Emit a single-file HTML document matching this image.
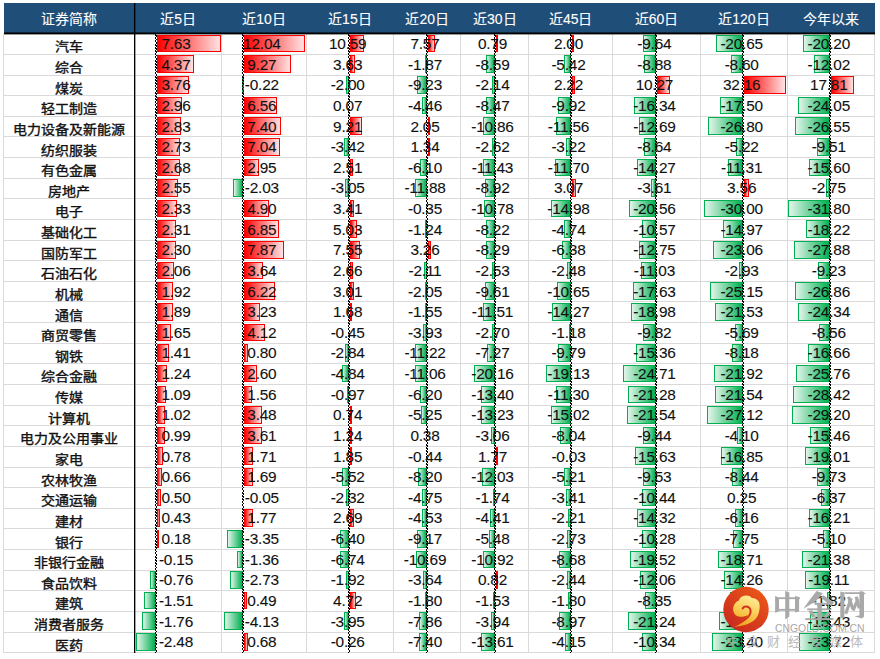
<!DOCTYPE html><html lang="zh-CN"><head><meta charset="utf-8"><style>
*{margin:0;padding:0;box-sizing:border-box}
html,body{width:880px;height:659px;background:#fff;overflow:hidden;position:relative;font-family:"Liberation Sans",sans-serif}
.a{position:absolute}
.hd{position:absolute;left:4px;top:3.2px;width:870.7px;height:30px;background:#1f4e79}
.ht{position:absolute;top:4.0px;height:30px;line-height:30px;color:#fff;font-size:14px;-webkit-text-stroke:0.1px #fff;text-align:center;white-space:nowrap}
.gv{position:absolute;width:1px;background:#dadada}
.gh{position:absolute;height:1px;background:#dadada}
.nm{position:absolute;font-size:14px;-webkit-text-stroke:0.4px #111;color:#111;transform:scaleY(0.9);transform-origin:50% 16.6px;text-align:center;white-space:nowrap;line-height:20px}
.n{position:absolute;font-size:15.4px;letter-spacing:-0.2px;color:#111;-webkit-text-stroke:0.1px #111;white-space:nowrap;line-height:20px}
.c{text-align:center}
.rb{position:absolute;border:1px solid #ff0000;background:linear-gradient(90deg,#ff0000,#ffe2e2)}
.gb{position:absolute;border:1px solid #00b050;background:linear-gradient(270deg,#00b050,#e2f5ea)}
.ax{position:absolute;width:1px;background:repeating-linear-gradient(180deg,#000 0,#000 2px,transparent 2px,transparent 3.2px)}
.ax2{position:absolute;width:1px;background:repeating-linear-gradient(180deg,transparent 0,transparent 1.4px,#000 1.4px,#000 3.2px)}

</style></head><body>
<div class="hd"></div>
<div class="ht" style="left:4px;width:130.5px">证券简称</div>
<div class="ht" style="left:134.5px;width:87.3px">近5日</div>
<div class="ht" style="left:221.84px;width:84.5px">近10日</div>
<div class="ht" style="left:306.3px;width:87.2px">近15日</div>
<div class="ht" style="left:393.47px;width:67.5px">近20日</div>
<div class="ht" style="left:460.99px;width:67.5px">近30日</div>
<div class="ht" style="left:528.47px;width:84.4px">近45日</div>
<div class="ht" style="left:612.9px;width:87.4px">近60日</div>
<div class="ht" style="left:700.3px;width:87.2px">近120日</div>
<div class="ht" style="left:787.47px;width:87.0px">今年以来</div>
<div class="gh" style="left:4px;top:54px;width:871px"></div>
<div class="gh" style="left:4px;top:75px;width:871px"></div>
<div class="gh" style="left:4px;top:95px;width:871px"></div>
<div class="gh" style="left:4px;top:116px;width:871px"></div>
<div class="gh" style="left:4px;top:136px;width:871px"></div>
<div class="gh" style="left:4px;top:157px;width:871px"></div>
<div class="gh" style="left:4px;top:178px;width:871px"></div>
<div class="gh" style="left:4px;top:198px;width:871px"></div>
<div class="gh" style="left:4px;top:219px;width:871px"></div>
<div class="gh" style="left:4px;top:240px;width:871px"></div>
<div class="gh" style="left:4px;top:260px;width:871px"></div>
<div class="gh" style="left:4px;top:281px;width:871px"></div>
<div class="gh" style="left:4px;top:301px;width:871px"></div>
<div class="gh" style="left:4px;top:322px;width:871px"></div>
<div class="gh" style="left:4px;top:343px;width:871px"></div>
<div class="gh" style="left:4px;top:363px;width:871px"></div>
<div class="gh" style="left:4px;top:384px;width:871px"></div>
<div class="gh" style="left:4px;top:405px;width:871px"></div>
<div class="gh" style="left:4px;top:425px;width:871px"></div>
<div class="gh" style="left:4px;top:446px;width:871px"></div>
<div class="gh" style="left:4px;top:467px;width:871px"></div>
<div class="gh" style="left:4px;top:487px;width:871px"></div>
<div class="gh" style="left:4px;top:508px;width:871px"></div>
<div class="gh" style="left:4px;top:528px;width:871px"></div>
<div class="gh" style="left:4px;top:549px;width:871px"></div>
<div class="gh" style="left:4px;top:570px;width:871px"></div>
<div class="gh" style="left:4px;top:590px;width:871px"></div>
<div class="gh" style="left:4px;top:611px;width:871px"></div>
<div class="gh" style="left:4px;top:632px;width:871px"></div>
<div class="gh" style="left:4px;top:652px;width:871px"></div>
<div class="gv" style="left:221px;top:34px;height:619px"></div>
<div class="gv" style="left:306px;top:34px;height:619px"></div>
<div class="gv" style="left:393px;top:34px;height:619px"></div>
<div class="gv" style="left:460px;top:34px;height:619px"></div>
<div class="gv" style="left:528px;top:34px;height:619px"></div>
<div class="gv" style="left:612px;top:34px;height:619px"></div>
<div class="gv" style="left:700px;top:34px;height:619px"></div>
<div class="gv" style="left:787px;top:34px;height:619px"></div>
<div class="gv" style="left:874px;top:34px;height:619px"></div>
<div class="gv" style="left:3px;top:33.8px;height:618.9px"></div>
<div class="rb" style="left:156.85px;top:34.80px;width:64.50px;height:17.6px"></div>
<div class="rb" style="left:244.30px;top:34.80px;width:60.30px;height:17.6px"></div>
<div class="rb" style="left:350.00px;top:34.80px;width:13.79px;height:17.6px"></div>
<div class="rb" style="left:427.90px;top:34.80px;width:7.41px;height:17.6px"></div>
<div class="rb" style="left:495.90px;top:34.80px;width:1.00px;height:17.6px"></div>
<div class="rb" style="left:571.90px;top:34.80px;width:2.45px;height:17.6px"></div>
<div class="gb" style="left:643.02px;top:34.80px;width:12.68px;height:17.6px"></div>
<div class="gb" style="left:715.76px;top:34.80px;width:26.84px;height:17.6px"></div>
<div class="gb" style="left:803.49px;top:34.80px;width:26.21px;height:17.6px"></div>
<div class="rb" style="left:156.85px;top:55.43px;width:36.94px;height:17.6px"></div>
<div class="rb" style="left:244.30px;top:55.43px;width:46.43px;height:17.6px"></div>
<div class="rb" style="left:350.00px;top:55.43px;width:4.73px;height:17.6px"></div>
<div class="gb" style="left:424.70px;top:55.43px;width:1.90px;height:17.6px"></div>
<div class="gb" style="left:485.76px;top:55.43px;width:8.84px;height:17.6px"></div>
<div class="gb" style="left:563.58px;top:55.43px;width:7.02px;height:17.6px"></div>
<div class="gb" style="left:644.02px;top:55.43px;width:11.68px;height:17.6px"></div>
<div class="gb" style="left:731.42px;top:55.43px;width:11.18px;height:17.6px"></div>
<div class="gb" style="left:814.10px;top:55.43px;width:15.60px;height:17.6px"></div>
<div class="rb" style="left:156.85px;top:76.06px;width:31.79px;height:17.6px"></div>
<div class="gb" style="left:241.96px;top:76.06px;width:1.04px;height:17.6px"></div>
<div class="gb" style="left:346.09px;top:76.06px;width:2.61px;height:17.6px"></div>
<div class="gb" style="left:417.24px;top:76.06px;width:9.36px;height:17.6px"></div>
<div class="gb" style="left:492.40px;top:76.06px;width:2.20px;height:17.6px"></div>
<div class="rb" style="left:571.90px;top:76.06px;width:2.72px;height:17.6px"></div>
<div class="rb" style="left:657.00px;top:76.06px;width:13.32px;height:17.6px"></div>
<div class="rb" style="left:743.90px;top:76.06px;width:41.97px;height:17.6px"></div>
<div class="rb" style="left:831.00px;top:76.06px;width:23.20px;height:17.6px"></div>
<div class="rb" style="left:156.85px;top:96.69px;width:25.02px;height:17.6px"></div>
<div class="rb" style="left:244.30px;top:96.69px;width:32.85px;height:17.6px"></div>
<div class="gb" style="left:422.07px;top:96.69px;width:4.53px;height:17.6px"></div>
<div class="gb" style="left:485.88px;top:96.69px;width:8.72px;height:17.6px"></div>
<div class="gb" style="left:557.76px;top:96.69px;width:12.84px;height:17.6px"></div>
<div class="gb" style="left:634.21px;top:96.69px;width:21.49px;height:17.6px"></div>
<div class="gb" style="left:719.85px;top:96.69px;width:22.75px;height:17.6px"></div>
<div class="gb" style="left:798.49px;top:96.69px;width:31.21px;height:17.6px"></div>
<div class="rb" style="left:156.85px;top:117.32px;width:23.92px;height:17.6px"></div>
<div class="rb" style="left:244.30px;top:117.32px;width:37.06px;height:17.6px"></div>
<div class="rb" style="left:350.00px;top:117.32px;width:11.99px;height:17.6px"></div>
<div class="rb" style="left:427.90px;top:117.32px;width:2.01px;height:17.6px"></div>
<div class="gb" style="left:483.42px;top:117.32px;width:11.18px;height:17.6px"></div>
<div class="gb" style="left:555.64px;top:117.32px;width:14.96px;height:17.6px"></div>
<div class="gb" style="left:639.01px;top:117.32px;width:16.69px;height:17.6px"></div>
<div class="gb" style="left:707.77px;top:117.32px;width:34.83px;height:17.6px"></div>
<div class="gb" style="left:795.25px;top:117.32px;width:34.45px;height:17.6px"></div>
<div class="rb" style="left:156.85px;top:137.95px;width:23.08px;height:17.6px"></div>
<div class="rb" style="left:244.30px;top:137.95px;width:35.26px;height:17.6px"></div>
<div class="gb" style="left:344.24px;top:137.95px;width:4.46px;height:17.6px"></div>
<div class="rb" style="left:427.90px;top:137.95px;width:1.31px;height:17.6px"></div>
<div class="gb" style="left:491.90px;top:137.95px;width:2.70px;height:17.6px"></div>
<div class="gb" style="left:566.43px;top:137.95px;width:4.17px;height:17.6px"></div>
<div class="gb" style="left:644.34px;top:137.95px;width:11.36px;height:17.6px"></div>
<div class="gb" style="left:735.82px;top:137.95px;width:6.78px;height:17.6px"></div>
<div class="gb" style="left:817.36px;top:137.95px;width:12.34px;height:17.6px"></div>
<div class="rb" style="left:156.85px;top:158.58px;width:22.66px;height:17.6px"></div>
<div class="rb" style="left:244.30px;top:158.58px;width:14.77px;height:17.6px"></div>
<div class="rb" style="left:350.00px;top:158.58px;width:3.27px;height:17.6px"></div>
<div class="gb" style="left:420.41px;top:158.58px;width:6.19px;height:17.6px"></div>
<div class="gb" style="left:482.83px;top:158.58px;width:11.77px;height:17.6px"></div>
<div class="gb" style="left:555.45px;top:158.58px;width:15.15px;height:17.6px"></div>
<div class="gb" style="left:636.93px;top:158.58px;width:18.77px;height:17.6px"></div>
<div class="gb" style="left:727.90px;top:158.58px;width:14.70px;height:17.6px"></div>
<div class="gb" style="left:809.46px;top:158.58px;width:20.24px;height:17.6px"></div>
<div class="rb" style="left:156.85px;top:179.21px;width:21.56px;height:17.6px"></div>
<div class="gb" style="left:233.42px;top:179.21px;width:9.58px;height:17.6px"></div>
<div class="gb" style="left:344.73px;top:179.21px;width:3.97px;height:17.6px"></div>
<div class="gb" style="left:414.55px;top:179.21px;width:12.05px;height:17.6px"></div>
<div class="gb" style="left:485.42px;top:179.21px;width:9.18px;height:17.6px"></div>
<div class="rb" style="left:571.90px;top:179.21px;width:3.76px;height:17.6px"></div>
<div class="gb" style="left:650.95px;top:179.21px;width:4.75px;height:17.6px"></div>
<div class="rb" style="left:743.90px;top:179.21px;width:4.65px;height:17.6px"></div>
<div class="gb" style="left:826.13px;top:179.21px;width:3.57px;height:17.6px"></div>
<div class="rb" style="left:156.85px;top:199.84px;width:19.70px;height:17.6px"></div>
<div class="rb" style="left:244.30px;top:199.84px;width:24.54px;height:17.6px"></div>
<div class="rb" style="left:350.00px;top:199.84px;width:4.44px;height:17.6px"></div>
<div class="gb" style="left:483.50px;top:199.84px;width:11.10px;height:17.6px"></div>
<div class="gb" style="left:551.21px;top:199.84px;width:19.39px;height:17.6px"></div>
<div class="gb" style="left:628.66px;top:199.84px;width:27.04px;height:17.6px"></div>
<div class="gb" style="left:703.61px;top:199.84px;width:38.99px;height:17.6px"></div>
<div class="gb" style="left:788.44px;top:199.84px;width:41.26px;height:17.6px"></div>
<div class="rb" style="left:156.85px;top:220.47px;width:19.53px;height:17.6px"></div>
<div class="rb" style="left:244.30px;top:220.47px;width:34.31px;height:17.6px"></div>
<div class="rb" style="left:350.00px;top:220.47px;width:6.55px;height:17.6px"></div>
<div class="gb" style="left:425.34px;top:220.47px;width:1.26px;height:17.6px"></div>
<div class="gb" style="left:486.14px;top:220.47px;width:8.46px;height:17.6px"></div>
<div class="gb" style="left:564.46px;top:220.47px;width:6.14px;height:17.6px"></div>
<div class="gb" style="left:641.80px;top:220.47px;width:13.90px;height:17.6px"></div>
<div class="gb" style="left:723.14px;top:220.47px;width:19.46px;height:17.6px"></div>
<div class="gb" style="left:806.06px;top:220.47px;width:23.64px;height:17.6px"></div>
<div class="rb" style="left:156.85px;top:241.10px;width:19.44px;height:17.6px"></div>
<div class="rb" style="left:244.30px;top:241.10px;width:39.42px;height:17.6px"></div>
<div class="rb" style="left:350.00px;top:241.10px;width:9.83px;height:17.6px"></div>
<div class="rb" style="left:427.90px;top:241.10px;width:3.19px;height:17.6px"></div>
<div class="gb" style="left:486.07px;top:241.10px;width:8.53px;height:17.6px"></div>
<div class="gb" style="left:562.34px;top:241.10px;width:8.26px;height:17.6px"></div>
<div class="gb" style="left:638.93px;top:241.10px;width:16.77px;height:17.6px"></div>
<div class="gb" style="left:712.63px;top:241.10px;width:29.97px;height:17.6px"></div>
<div class="gb" style="left:793.52px;top:241.10px;width:36.18px;height:17.6px"></div>
<div class="rb" style="left:156.85px;top:261.73px;width:17.41px;height:17.6px"></div>
<div class="rb" style="left:244.30px;top:261.73px;width:18.23px;height:17.6px"></div>
<div class="rb" style="left:350.00px;top:261.73px;width:3.46px;height:17.6px"></div>
<div class="gb" style="left:424.46px;top:261.73px;width:2.14px;height:17.6px"></div>
<div class="gb" style="left:492.00px;top:261.73px;width:2.60px;height:17.6px"></div>
<div class="gb" style="left:567.39px;top:261.73px;width:3.21px;height:17.6px"></div>
<div class="gb" style="left:641.19px;top:261.73px;width:14.51px;height:17.6px"></div>
<div class="gb" style="left:738.79px;top:261.73px;width:3.81px;height:17.6px"></div>
<div class="gb" style="left:817.72px;top:261.73px;width:11.98px;height:17.6px"></div>
<div class="rb" style="left:156.85px;top:282.36px;width:16.23px;height:17.6px"></div>
<div class="rb" style="left:244.30px;top:282.36px;width:31.15px;height:17.6px"></div>
<div class="rb" style="left:350.00px;top:282.36px;width:3.92px;height:17.6px"></div>
<div class="gb" style="left:424.52px;top:282.36px;width:2.08px;height:17.6px"></div>
<div class="gb" style="left:484.71px;top:282.36px;width:9.89px;height:17.6px"></div>
<div class="gb" style="left:556.81px;top:282.36px;width:13.79px;height:17.6px"></div>
<div class="gb" style="left:632.51px;top:282.36px;width:23.19px;height:17.6px"></div>
<div class="gb" style="left:709.91px;top:282.36px;width:32.69px;height:17.6px"></div>
<div class="gb" style="left:794.85px;top:282.36px;width:34.85px;height:17.6px"></div>
<div class="rb" style="left:156.85px;top:302.99px;width:15.98px;height:17.6px"></div>
<div class="rb" style="left:244.30px;top:302.99px;width:16.18px;height:17.6px"></div>
<div class="rb" style="left:350.00px;top:302.99px;width:2.19px;height:17.6px"></div>
<div class="gb" style="left:425.03px;top:302.99px;width:1.57px;height:17.6px"></div>
<div class="gb" style="left:482.75px;top:302.99px;width:11.85px;height:17.6px"></div>
<div class="gb" style="left:552.13px;top:302.99px;width:18.47px;height:17.6px"></div>
<div class="gb" style="left:630.74px;top:302.99px;width:24.96px;height:17.6px"></div>
<div class="gb" style="left:714.62px;top:302.99px;width:27.98px;height:17.6px"></div>
<div class="gb" style="left:798.12px;top:302.99px;width:31.58px;height:17.6px"></div>
<div class="rb" style="left:156.85px;top:323.62px;width:13.95px;height:17.6px"></div>
<div class="rb" style="left:244.30px;top:323.62px;width:20.63px;height:17.6px"></div>
<div class="gb" style="left:422.61px;top:323.62px;width:3.99px;height:17.6px"></div>
<div class="gb" style="left:491.82px;top:323.62px;width:2.78px;height:17.6px"></div>
<div class="gb" style="left:569.07px;top:323.62px;width:1.53px;height:17.6px"></div>
<div class="gb" style="left:642.78px;top:323.62px;width:12.92px;height:17.6px"></div>
<div class="gb" style="left:735.20px;top:323.62px;width:7.40px;height:17.6px"></div>
<div class="gb" style="left:818.59px;top:323.62px;width:11.11px;height:17.6px"></div>
<div class="rb" style="left:156.85px;top:344.25px;width:11.92px;height:17.6px"></div>
<div class="rb" style="left:244.30px;top:344.25px;width:4.01px;height:17.6px"></div>
<div class="gb" style="left:345.00px;top:344.25px;width:3.70px;height:17.6px"></div>
<div class="gb" style="left:415.22px;top:344.25px;width:11.38px;height:17.6px"></div>
<div class="gb" style="left:487.12px;top:344.25px;width:7.48px;height:17.6px"></div>
<div class="gb" style="left:557.93px;top:344.25px;width:12.67px;height:17.6px"></div>
<div class="gb" style="left:635.50px;top:344.25px;width:20.20px;height:17.6px"></div>
<div class="gb" style="left:731.97px;top:344.25px;width:10.63px;height:17.6px"></div>
<div class="gb" style="left:808.08px;top:344.25px;width:21.62px;height:17.6px"></div>
<div class="rb" style="left:156.85px;top:364.88px;width:10.48px;height:17.6px"></div>
<div class="rb" style="left:244.30px;top:364.88px;width:13.02px;height:17.6px"></div>
<div class="gb" style="left:342.39px;top:364.88px;width:6.31px;height:17.6px"></div>
<div class="gb" style="left:415.38px;top:364.88px;width:11.22px;height:17.6px"></div>
<div class="gb" style="left:473.84px;top:364.88px;width:20.76px;height:17.6px"></div>
<div class="gb" style="left:545.84px;top:364.88px;width:24.76px;height:17.6px"></div>
<div class="gb" style="left:623.20px;top:364.88px;width:32.50px;height:17.6px"></div>
<div class="gb" style="left:714.11px;top:364.88px;width:28.49px;height:17.6px"></div>
<div class="gb" style="left:796.27px;top:364.88px;width:33.43px;height:17.6px"></div>
<div class="rb" style="left:156.85px;top:385.51px;width:9.21px;height:17.6px"></div>
<div class="rb" style="left:244.30px;top:385.51px;width:7.81px;height:17.6px"></div>
<div class="gb" style="left:347.44px;top:385.51px;width:1.26px;height:17.6px"></div>
<div class="gb" style="left:420.31px;top:385.51px;width:6.29px;height:17.6px"></div>
<div class="gb" style="left:480.80px;top:385.51px;width:13.80px;height:17.6px"></div>
<div class="gb" style="left:555.97px;top:385.51px;width:14.63px;height:17.6px"></div>
<div class="gb" style="left:627.71px;top:385.51px;width:27.99px;height:17.6px"></div>
<div class="gb" style="left:714.60px;top:385.51px;width:28.00px;height:17.6px"></div>
<div class="gb" style="left:792.82px;top:385.51px;width:36.88px;height:17.6px"></div>
<div class="rb" style="left:156.85px;top:406.14px;width:8.62px;height:17.6px"></div>
<div class="rb" style="left:244.30px;top:406.14px;width:17.43px;height:17.6px"></div>
<div class="rb" style="left:350.00px;top:406.14px;width:1.00px;height:17.6px"></div>
<div class="gb" style="left:421.27px;top:406.14px;width:5.33px;height:17.6px"></div>
<div class="gb" style="left:480.98px;top:406.14px;width:13.62px;height:17.6px"></div>
<div class="gb" style="left:551.16px;top:406.14px;width:19.44px;height:17.6px"></div>
<div class="gb" style="left:627.37px;top:406.14px;width:28.33px;height:17.6px"></div>
<div class="gb" style="left:707.35px;top:406.14px;width:35.25px;height:17.6px"></div>
<div class="gb" style="left:791.81px;top:406.14px;width:37.89px;height:17.6px"></div>
<div class="rb" style="left:156.85px;top:426.77px;width:8.37px;height:17.6px"></div>
<div class="rb" style="left:244.30px;top:426.77px;width:18.08px;height:17.6px"></div>
<div class="rb" style="left:350.00px;top:426.77px;width:1.61px;height:17.6px"></div>
<div class="gb" style="left:491.45px;top:426.77px;width:3.15px;height:17.6px"></div>
<div class="gb" style="left:560.19px;top:426.77px;width:10.41px;height:17.6px"></div>
<div class="gb" style="left:643.28px;top:426.77px;width:12.42px;height:17.6px"></div>
<div class="gb" style="left:737.27px;top:426.77px;width:5.33px;height:17.6px"></div>
<div class="gb" style="left:809.64px;top:426.77px;width:20.06px;height:17.6px"></div>
<div class="rb" style="left:156.85px;top:447.40px;width:6.59px;height:17.6px"></div>
<div class="rb" style="left:244.30px;top:447.40px;width:8.56px;height:17.6px"></div>
<div class="rb" style="left:350.00px;top:447.40px;width:2.41px;height:17.6px"></div>
<div class="rb" style="left:495.90px;top:447.40px;width:1.70px;height:17.6px"></div>
<div class="gb" style="left:635.14px;top:447.40px;width:20.56px;height:17.6px"></div>
<div class="gb" style="left:720.70px;top:447.40px;width:21.90px;height:17.6px"></div>
<div class="gb" style="left:805.03px;top:447.40px;width:24.67px;height:17.6px"></div>
<div class="rb" style="left:156.85px;top:468.03px;width:5.58px;height:17.6px"></div>
<div class="rb" style="left:244.30px;top:468.03px;width:8.46px;height:17.6px"></div>
<div class="gb" style="left:341.51px;top:468.03px;width:7.19px;height:17.6px"></div>
<div class="gb" style="left:418.28px;top:468.03px;width:8.32px;height:17.6px"></div>
<div class="gb" style="left:482.21px;top:468.03px;width:12.39px;height:17.6px"></div>
<div class="gb" style="left:563.86px;top:468.03px;width:6.74px;height:17.6px"></div>
<div class="gb" style="left:643.17px;top:468.03px;width:12.53px;height:17.6px"></div>
<div class="gb" style="left:731.63px;top:468.03px;width:10.97px;height:17.6px"></div>
<div class="gb" style="left:817.07px;top:468.03px;width:12.63px;height:17.6px"></div>
<div class="rb" style="left:156.85px;top:488.66px;width:4.23px;height:17.6px"></div>
<div class="gb" style="left:345.68px;top:488.66px;width:3.02px;height:17.6px"></div>
<div class="gb" style="left:421.78px;top:488.66px;width:4.82px;height:17.6px"></div>
<div class="gb" style="left:492.81px;top:488.66px;width:1.79px;height:17.6px"></div>
<div class="gb" style="left:566.19px;top:488.66px;width:4.41px;height:17.6px"></div>
<div class="gb" style="left:641.97px;top:488.66px;width:13.73px;height:17.6px"></div>
<div class="gb" style="left:821.43px;top:488.66px;width:8.27px;height:17.6px"></div>
<div class="rb" style="left:156.85px;top:509.29px;width:3.63px;height:17.6px"></div>
<div class="rb" style="left:244.30px;top:509.29px;width:8.86px;height:17.6px"></div>
<div class="rb" style="left:350.00px;top:509.29px;width:3.50px;height:17.6px"></div>
<div class="gb" style="left:422.00px;top:509.29px;width:4.60px;height:17.6px"></div>
<div class="gb" style="left:490.06px;top:509.29px;width:4.54px;height:17.6px"></div>
<div class="gb" style="left:567.74px;top:509.29px;width:2.86px;height:17.6px"></div>
<div class="gb" style="left:636.86px;top:509.29px;width:18.84px;height:17.6px"></div>
<div class="gb" style="left:734.59px;top:509.29px;width:8.01px;height:17.6px"></div>
<div class="gb" style="left:808.67px;top:509.29px;width:21.03px;height:17.6px"></div>
<div class="rb" style="left:156.85px;top:529.92px;width:1.52px;height:17.6px"></div>
<div class="gb" style="left:227.18px;top:529.92px;width:15.82px;height:17.6px"></div>
<div class="gb" style="left:340.36px;top:529.92px;width:8.34px;height:17.6px"></div>
<div class="gb" style="left:417.30px;top:529.92px;width:9.30px;height:17.6px"></div>
<div class="gb" style="left:488.96px;top:529.92px;width:5.64px;height:17.6px"></div>
<div class="gb" style="left:567.07px;top:529.92px;width:3.53px;height:17.6px"></div>
<div class="gb" style="left:642.18px;top:529.92px;width:13.52px;height:17.6px"></div>
<div class="gb" style="left:732.53px;top:529.92px;width:10.07px;height:17.6px"></div>
<div class="gb" style="left:823.08px;top:529.92px;width:6.62px;height:17.6px"></div>
<div class="gb" style="left:236.58px;top:550.55px;width:6.42px;height:17.6px"></div>
<div class="gb" style="left:339.92px;top:550.55px;width:8.78px;height:17.6px"></div>
<div class="gb" style="left:415.75px;top:550.55px;width:10.85px;height:17.6px"></div>
<div class="gb" style="left:483.36px;top:550.55px;width:11.24px;height:17.6px"></div>
<div class="gb" style="left:559.36px;top:550.55px;width:11.24px;height:17.6px"></div>
<div class="gb" style="left:630.03px;top:550.55px;width:25.67px;height:17.6px"></div>
<div class="gb" style="left:718.28px;top:550.55px;width:24.32px;height:17.6px"></div>
<div class="gb" style="left:801.96px;top:550.55px;width:27.74px;height:17.6px"></div>
<div class="gb" style="left:149.67px;top:571.18px;width:5.88px;height:17.6px"></div>
<div class="gb" style="left:230.11px;top:571.18px;width:12.89px;height:17.6px"></div>
<div class="gb" style="left:346.20px;top:571.18px;width:2.50px;height:17.6px"></div>
<div class="gb" style="left:422.91px;top:571.18px;width:3.69px;height:17.6px"></div>
<div class="rb" style="left:495.90px;top:571.18px;width:1.00px;height:17.6px"></div>
<div class="gb" style="left:567.44px;top:571.18px;width:3.16px;height:17.6px"></div>
<div class="gb" style="left:639.84px;top:571.18px;width:15.86px;height:17.6px"></div>
<div class="gb" style="left:724.07px;top:571.18px;width:18.53px;height:17.6px"></div>
<div class="gb" style="left:804.90px;top:571.18px;width:24.80px;height:17.6px"></div>
<div class="gb" style="left:143.86px;top:591.81px;width:11.69px;height:17.6px"></div>
<div class="rb" style="left:244.30px;top:591.81px;width:2.45px;height:17.6px"></div>
<div class="rb" style="left:350.00px;top:591.81px;width:6.15px;height:17.6px"></div>
<div class="gb" style="left:424.77px;top:591.81px;width:1.83px;height:17.6px"></div>
<div class="gb" style="left:493.02px;top:591.81px;width:1.58px;height:17.6px"></div>
<div class="gb" style="left:568.27px;top:591.81px;width:2.33px;height:17.6px"></div>
<div class="gb" style="left:644.72px;top:591.81px;width:10.98px;height:17.6px"></div>
<div class="gb" style="left:730.10px;top:591.81px;width:12.50px;height:17.6px"></div>
<div class="gb" style="left:827.34px;top:591.81px;width:2.36px;height:17.6px"></div>
<div class="gb" style="left:141.92px;top:612.44px;width:13.63px;height:17.6px"></div>
<div class="gb" style="left:223.50px;top:612.44px;width:19.50px;height:17.6px"></div>
<div class="gb" style="left:343.55px;top:612.44px;width:5.15px;height:17.6px"></div>
<div class="gb" style="left:418.63px;top:612.44px;width:7.97px;height:17.6px"></div>
<div class="gb" style="left:490.54px;top:612.44px;width:4.06px;height:17.6px"></div>
<div class="gb" style="left:558.99px;top:612.44px;width:11.61px;height:17.6px"></div>
<div class="gb" style="left:627.76px;top:612.44px;width:27.94px;height:17.6px"></div>
<div class="gb" style="left:718.94px;top:612.44px;width:23.66px;height:17.6px"></div>
<div class="gb" style="left:809.68px;top:612.44px;width:20.02px;height:17.6px"></div>
<div class="gb" style="left:136.35px;top:633.07px;width:19.20px;height:17.6px"></div>
<div class="rb" style="left:244.30px;top:633.07px;width:3.41px;height:17.6px"></div>
<div class="gb" style="left:419.09px;top:633.07px;width:7.51px;height:17.6px"></div>
<div class="gb" style="left:480.59px;top:633.07px;width:14.01px;height:17.6px"></div>
<div class="gb" style="left:565.23px;top:633.07px;width:5.37px;height:17.6px"></div>
<div class="gb" style="left:642.10px;top:633.07px;width:13.60px;height:17.6px"></div>
<div class="gb" style="left:712.19px;top:633.07px;width:30.41px;height:17.6px"></div>
<div class="gb" style="left:798.92px;top:633.07px;width:30.78px;height:17.6px"></div>
<div class="ax" style="left:155px;top:34px;height:618.7px"></div>
<div class="ax2" style="left:156px;top:34px;height:618.7px"></div>
<div class="ax" style="left:242px;top:34px;height:618.7px"></div>
<div class="ax2" style="left:243px;top:34px;height:618.7px"></div>
<div class="ax" style="left:348px;top:34px;height:618.7px"></div>
<div class="ax2" style="left:349px;top:34px;height:618.7px"></div>
<div class="ax" style="left:426px;top:34px;height:618.7px"></div>
<div class="ax2" style="left:427px;top:34px;height:618.7px"></div>
<div class="ax" style="left:494px;top:34px;height:618.7px"></div>
<div class="ax2" style="left:495px;top:34px;height:618.7px"></div>
<div class="ax" style="left:570px;top:34px;height:618.7px"></div>
<div class="ax2" style="left:571px;top:34px;height:618.7px"></div>
<div class="ax" style="left:655px;top:34px;height:618.7px"></div>
<div class="ax2" style="left:656px;top:34px;height:618.7px"></div>
<div class="ax" style="left:742px;top:34px;height:618.7px"></div>
<div class="ax2" style="left:743px;top:34px;height:618.7px"></div>
<div class="ax" style="left:829px;top:34px;height:618.7px"></div>
<div class="ax2" style="left:830px;top:34px;height:618.7px"></div>
<div class="nm" style="left:4px;width:130.5px;top:36.40px">汽车</div>
<div class="n c" style="left:132.30px;width:87.34px;top:34.00px">7.63</div>
<div class="n c" style="left:219.64px;width:84.46px;top:34.00px">12.04</div>
<div class="n c" style="left:304.10px;width:87.17px;top:34.00px">10.59</div>
<div class="n c" style="left:391.27px;width:67.52px;top:34.00px">7.57</div>
<div class="n c" style="left:458.79px;width:67.48px;top:34.00px">0.79</div>
<div class="n c" style="left:526.27px;width:84.43px;top:34.00px">2.00</div>
<div class="n c" style="left:610.70px;width:87.40px;top:34.00px">-9.64</div>
<div class="n c" style="left:698.10px;width:87.17px;top:34.00px">-20.65</div>
<div class="n c" style="left:785.27px;width:87.03px;top:34.00px">-20.20</div>
<div class="nm" style="left:4px;width:130.5px;top:57.03px">综合</div>
<div class="n c" style="left:132.30px;width:87.34px;top:54.63px">4.37</div>
<div class="n c" style="left:219.64px;width:84.46px;top:54.63px">9.27</div>
<div class="n c" style="left:304.10px;width:87.17px;top:54.63px">3.63</div>
<div class="n c" style="left:391.27px;width:67.52px;top:54.63px">-1.87</div>
<div class="n c" style="left:458.79px;width:67.48px;top:54.63px">-8.59</div>
<div class="n c" style="left:526.27px;width:84.43px;top:54.63px">-5.42</div>
<div class="n c" style="left:610.70px;width:87.40px;top:54.63px">-8.88</div>
<div class="n c" style="left:698.10px;width:87.17px;top:54.63px">-8.60</div>
<div class="n c" style="left:785.27px;width:87.03px;top:54.63px">-12.02</div>
<div class="nm" style="left:4px;width:130.5px;top:77.66px">煤炭</div>
<div class="n c" style="left:132.30px;width:87.34px;top:75.26px">3.76</div>
<div class="n c" style="left:219.64px;width:84.46px;top:75.26px">-0.22</div>
<div class="n c" style="left:304.10px;width:87.17px;top:75.26px">-2.00</div>
<div class="n c" style="left:391.27px;width:67.52px;top:75.26px">-9.23</div>
<div class="n c" style="left:458.79px;width:67.48px;top:75.26px">-2.14</div>
<div class="n c" style="left:526.27px;width:84.43px;top:75.26px">2.22</div>
<div class="n c" style="left:610.70px;width:87.40px;top:75.26px">10.27</div>
<div class="n c" style="left:698.10px;width:87.17px;top:75.26px">32.16</div>
<div class="n c" style="left:785.27px;width:87.03px;top:75.26px">17.81</div>
<div class="nm" style="left:4px;width:130.5px;top:98.29px">轻工制造</div>
<div class="n c" style="left:132.30px;width:87.34px;top:95.89px">2.96</div>
<div class="n c" style="left:219.64px;width:84.46px;top:95.89px">6.56</div>
<div class="n c" style="left:304.10px;width:87.17px;top:95.89px">0.07</div>
<div class="n c" style="left:391.27px;width:67.52px;top:95.89px">-4.46</div>
<div class="n c" style="left:458.79px;width:67.48px;top:95.89px">-8.47</div>
<div class="n c" style="left:526.27px;width:84.43px;top:95.89px">-9.92</div>
<div class="n c" style="left:610.70px;width:87.40px;top:95.89px">-16.34</div>
<div class="n c" style="left:698.10px;width:87.17px;top:95.89px">-17.50</div>
<div class="n c" style="left:785.27px;width:87.03px;top:95.89px">-24.05</div>
<div class="nm" style="left:4px;width:130.5px;top:118.92px">电力设备及新能源</div>
<div class="n c" style="left:132.30px;width:87.34px;top:116.52px">2.83</div>
<div class="n c" style="left:219.64px;width:84.46px;top:116.52px">7.40</div>
<div class="n c" style="left:304.10px;width:87.17px;top:116.52px">9.21</div>
<div class="n c" style="left:391.27px;width:67.52px;top:116.52px">2.05</div>
<div class="n c" style="left:458.79px;width:67.48px;top:116.52px">-10.86</div>
<div class="n c" style="left:526.27px;width:84.43px;top:116.52px">-11.56</div>
<div class="n c" style="left:610.70px;width:87.40px;top:116.52px">-12.69</div>
<div class="n c" style="left:698.10px;width:87.17px;top:116.52px">-26.80</div>
<div class="n c" style="left:785.27px;width:87.03px;top:116.52px">-26.55</div>
<div class="nm" style="left:4px;width:130.5px;top:139.55px">纺织服装</div>
<div class="n c" style="left:132.30px;width:87.34px;top:137.15px">2.73</div>
<div class="n c" style="left:219.64px;width:84.46px;top:137.15px">7.04</div>
<div class="n c" style="left:304.10px;width:87.17px;top:137.15px">-3.42</div>
<div class="n c" style="left:391.27px;width:67.52px;top:137.15px">1.34</div>
<div class="n c" style="left:458.79px;width:67.48px;top:137.15px">-2.62</div>
<div class="n c" style="left:526.27px;width:84.43px;top:137.15px">-3.22</div>
<div class="n c" style="left:610.70px;width:87.40px;top:137.15px">-8.64</div>
<div class="n c" style="left:698.10px;width:87.17px;top:137.15px">-5.22</div>
<div class="n c" style="left:785.27px;width:87.03px;top:137.15px">-9.51</div>
<div class="nm" style="left:4px;width:130.5px;top:160.18px">有色金属</div>
<div class="n c" style="left:132.30px;width:87.34px;top:157.78px">2.68</div>
<div class="n c" style="left:219.64px;width:84.46px;top:157.78px">2.95</div>
<div class="n c" style="left:304.10px;width:87.17px;top:157.78px">2.51</div>
<div class="n c" style="left:391.27px;width:67.52px;top:157.78px">-6.10</div>
<div class="n c" style="left:458.79px;width:67.48px;top:157.78px">-11.43</div>
<div class="n c" style="left:526.27px;width:84.43px;top:157.78px">-11.70</div>
<div class="n c" style="left:610.70px;width:87.40px;top:157.78px">-14.27</div>
<div class="n c" style="left:698.10px;width:87.17px;top:157.78px">-11.31</div>
<div class="n c" style="left:785.27px;width:87.03px;top:157.78px">-15.60</div>
<div class="nm" style="left:4px;width:130.5px;top:180.81px">房地产</div>
<div class="n c" style="left:132.30px;width:87.34px;top:178.41px">2.55</div>
<div class="n c" style="left:219.64px;width:84.46px;top:178.41px">-2.03</div>
<div class="n c" style="left:304.10px;width:87.17px;top:178.41px">-3.05</div>
<div class="n c" style="left:391.27px;width:67.52px;top:178.41px">-11.88</div>
<div class="n c" style="left:458.79px;width:67.48px;top:178.41px">-8.92</div>
<div class="n c" style="left:526.27px;width:84.43px;top:178.41px">3.07</div>
<div class="n c" style="left:610.70px;width:87.40px;top:178.41px">-3.61</div>
<div class="n c" style="left:698.10px;width:87.17px;top:178.41px">3.56</div>
<div class="n c" style="left:785.27px;width:87.03px;top:178.41px">-2.75</div>
<div class="nm" style="left:4px;width:130.5px;top:201.44px">电子</div>
<div class="n c" style="left:132.30px;width:87.34px;top:199.04px">2.33</div>
<div class="n c" style="left:219.64px;width:84.46px;top:199.04px">4.90</div>
<div class="n c" style="left:304.10px;width:87.17px;top:199.04px">3.41</div>
<div class="n c" style="left:391.27px;width:67.52px;top:199.04px">-0.35</div>
<div class="n c" style="left:458.79px;width:67.48px;top:199.04px">-10.78</div>
<div class="n c" style="left:526.27px;width:84.43px;top:199.04px">-14.98</div>
<div class="n c" style="left:610.70px;width:87.40px;top:199.04px">-20.56</div>
<div class="n c" style="left:698.10px;width:87.17px;top:199.04px">-30.00</div>
<div class="n c" style="left:785.27px;width:87.03px;top:199.04px">-31.80</div>
<div class="nm" style="left:4px;width:130.5px;top:222.07px">基础化工</div>
<div class="n c" style="left:132.30px;width:87.34px;top:219.67px">2.31</div>
<div class="n c" style="left:219.64px;width:84.46px;top:219.67px">6.85</div>
<div class="n c" style="left:304.10px;width:87.17px;top:219.67px">5.03</div>
<div class="n c" style="left:391.27px;width:67.52px;top:219.67px">-1.24</div>
<div class="n c" style="left:458.79px;width:67.48px;top:219.67px">-8.22</div>
<div class="n c" style="left:526.27px;width:84.43px;top:219.67px">-4.74</div>
<div class="n c" style="left:610.70px;width:87.40px;top:219.67px">-10.57</div>
<div class="n c" style="left:698.10px;width:87.17px;top:219.67px">-14.97</div>
<div class="n c" style="left:785.27px;width:87.03px;top:219.67px">-18.22</div>
<div class="nm" style="left:4px;width:130.5px;top:242.70px">国防军工</div>
<div class="n c" style="left:132.30px;width:87.34px;top:240.30px">2.30</div>
<div class="n c" style="left:219.64px;width:84.46px;top:240.30px">7.87</div>
<div class="n c" style="left:304.10px;width:87.17px;top:240.30px">7.55</div>
<div class="n c" style="left:391.27px;width:67.52px;top:240.30px">3.26</div>
<div class="n c" style="left:458.79px;width:67.48px;top:240.30px">-8.29</div>
<div class="n c" style="left:526.27px;width:84.43px;top:240.30px">-6.38</div>
<div class="n c" style="left:610.70px;width:87.40px;top:240.30px">-12.75</div>
<div class="n c" style="left:698.10px;width:87.17px;top:240.30px">-23.06</div>
<div class="n c" style="left:785.27px;width:87.03px;top:240.30px">-27.88</div>
<div class="nm" style="left:4px;width:130.5px;top:263.33px">石油石化</div>
<div class="n c" style="left:132.30px;width:87.34px;top:260.93px">2.06</div>
<div class="n c" style="left:219.64px;width:84.46px;top:260.93px">3.64</div>
<div class="n c" style="left:304.10px;width:87.17px;top:260.93px">2.66</div>
<div class="n c" style="left:391.27px;width:67.52px;top:260.93px">-2.11</div>
<div class="n c" style="left:458.79px;width:67.48px;top:260.93px">-2.53</div>
<div class="n c" style="left:526.27px;width:84.43px;top:260.93px">-2.48</div>
<div class="n c" style="left:610.70px;width:87.40px;top:260.93px">-11.03</div>
<div class="n c" style="left:698.10px;width:87.17px;top:260.93px">-2.93</div>
<div class="n c" style="left:785.27px;width:87.03px;top:260.93px">-9.23</div>
<div class="nm" style="left:4px;width:130.5px;top:283.96px">机械</div>
<div class="n c" style="left:132.30px;width:87.34px;top:281.56px">1.92</div>
<div class="n c" style="left:219.64px;width:84.46px;top:281.56px">6.22</div>
<div class="n c" style="left:304.10px;width:87.17px;top:281.56px">3.01</div>
<div class="n c" style="left:391.27px;width:67.52px;top:281.56px">-2.05</div>
<div class="n c" style="left:458.79px;width:67.48px;top:281.56px">-9.61</div>
<div class="n c" style="left:526.27px;width:84.43px;top:281.56px">-10.65</div>
<div class="n c" style="left:610.70px;width:87.40px;top:281.56px">-17.63</div>
<div class="n c" style="left:698.10px;width:87.17px;top:281.56px">-25.15</div>
<div class="n c" style="left:785.27px;width:87.03px;top:281.56px">-26.86</div>
<div class="nm" style="left:4px;width:130.5px;top:304.59px">通信</div>
<div class="n c" style="left:132.30px;width:87.34px;top:302.19px">1.89</div>
<div class="n c" style="left:219.64px;width:84.46px;top:302.19px">3.23</div>
<div class="n c" style="left:304.10px;width:87.17px;top:302.19px">1.68</div>
<div class="n c" style="left:391.27px;width:67.52px;top:302.19px">-1.55</div>
<div class="n c" style="left:458.79px;width:67.48px;top:302.19px">-11.51</div>
<div class="n c" style="left:526.27px;width:84.43px;top:302.19px">-14.27</div>
<div class="n c" style="left:610.70px;width:87.40px;top:302.19px">-18.98</div>
<div class="n c" style="left:698.10px;width:87.17px;top:302.19px">-21.53</div>
<div class="n c" style="left:785.27px;width:87.03px;top:302.19px">-24.34</div>
<div class="nm" style="left:4px;width:130.5px;top:325.22px">商贸零售</div>
<div class="n c" style="left:132.30px;width:87.34px;top:322.82px">1.65</div>
<div class="n c" style="left:219.64px;width:84.46px;top:322.82px">4.12</div>
<div class="n c" style="left:304.10px;width:87.17px;top:322.82px">-0.45</div>
<div class="n c" style="left:391.27px;width:67.52px;top:322.82px">-3.93</div>
<div class="n c" style="left:458.79px;width:67.48px;top:322.82px">-2.70</div>
<div class="n c" style="left:526.27px;width:84.43px;top:322.82px">-1.18</div>
<div class="n c" style="left:610.70px;width:87.40px;top:322.82px">-9.82</div>
<div class="n c" style="left:698.10px;width:87.17px;top:322.82px">-5.69</div>
<div class="n c" style="left:785.27px;width:87.03px;top:322.82px">-8.56</div>
<div class="nm" style="left:4px;width:130.5px;top:345.85px">钢铁</div>
<div class="n c" style="left:132.30px;width:87.34px;top:343.45px">1.41</div>
<div class="n c" style="left:219.64px;width:84.46px;top:343.45px">0.80</div>
<div class="n c" style="left:304.10px;width:87.17px;top:343.45px">-2.84</div>
<div class="n c" style="left:391.27px;width:67.52px;top:343.45px">-11.22</div>
<div class="n c" style="left:458.79px;width:67.48px;top:343.45px">-7.27</div>
<div class="n c" style="left:526.27px;width:84.43px;top:343.45px">-9.79</div>
<div class="n c" style="left:610.70px;width:87.40px;top:343.45px">-15.36</div>
<div class="n c" style="left:698.10px;width:87.17px;top:343.45px">-8.18</div>
<div class="n c" style="left:785.27px;width:87.03px;top:343.45px">-16.66</div>
<div class="nm" style="left:4px;width:130.5px;top:366.48px">综合金融</div>
<div class="n c" style="left:132.30px;width:87.34px;top:364.08px">1.24</div>
<div class="n c" style="left:219.64px;width:84.46px;top:364.08px">2.60</div>
<div class="n c" style="left:304.10px;width:87.17px;top:364.08px">-4.84</div>
<div class="n c" style="left:391.27px;width:67.52px;top:364.08px">-11.06</div>
<div class="n c" style="left:458.79px;width:67.48px;top:364.08px">-20.16</div>
<div class="n c" style="left:526.27px;width:84.43px;top:364.08px">-19.13</div>
<div class="n c" style="left:610.70px;width:87.40px;top:364.08px">-24.71</div>
<div class="n c" style="left:698.10px;width:87.17px;top:364.08px">-21.92</div>
<div class="n c" style="left:785.27px;width:87.03px;top:364.08px">-25.76</div>
<div class="nm" style="left:4px;width:130.5px;top:387.11px">传媒</div>
<div class="n c" style="left:132.30px;width:87.34px;top:384.71px">1.09</div>
<div class="n c" style="left:219.64px;width:84.46px;top:384.71px">1.56</div>
<div class="n c" style="left:304.10px;width:87.17px;top:384.71px">-0.97</div>
<div class="n c" style="left:391.27px;width:67.52px;top:384.71px">-6.20</div>
<div class="n c" style="left:458.79px;width:67.48px;top:384.71px">-13.40</div>
<div class="n c" style="left:526.27px;width:84.43px;top:384.71px">-11.30</div>
<div class="n c" style="left:610.70px;width:87.40px;top:384.71px">-21.28</div>
<div class="n c" style="left:698.10px;width:87.17px;top:384.71px">-21.54</div>
<div class="n c" style="left:785.27px;width:87.03px;top:384.71px">-28.42</div>
<div class="nm" style="left:4px;width:130.5px;top:407.74px">计算机</div>
<div class="n c" style="left:132.30px;width:87.34px;top:405.34px">1.02</div>
<div class="n c" style="left:219.64px;width:84.46px;top:405.34px">3.48</div>
<div class="n c" style="left:304.10px;width:87.17px;top:405.34px">0.74</div>
<div class="n c" style="left:391.27px;width:67.52px;top:405.34px">-5.25</div>
<div class="n c" style="left:458.79px;width:67.48px;top:405.34px">-13.23</div>
<div class="n c" style="left:526.27px;width:84.43px;top:405.34px">-15.02</div>
<div class="n c" style="left:610.70px;width:87.40px;top:405.34px">-21.54</div>
<div class="n c" style="left:698.10px;width:87.17px;top:405.34px">-27.12</div>
<div class="n c" style="left:785.27px;width:87.03px;top:405.34px">-29.20</div>
<div class="nm" style="left:4px;width:130.5px;top:428.37px">电力及公用事业</div>
<div class="n c" style="left:132.30px;width:87.34px;top:425.97px">0.99</div>
<div class="n c" style="left:219.64px;width:84.46px;top:425.97px">3.61</div>
<div class="n c" style="left:304.10px;width:87.17px;top:425.97px">1.24</div>
<div class="n c" style="left:391.27px;width:67.52px;top:425.97px">0.38</div>
<div class="n c" style="left:458.79px;width:67.48px;top:425.97px">-3.06</div>
<div class="n c" style="left:526.27px;width:84.43px;top:425.97px">-8.04</div>
<div class="n c" style="left:610.70px;width:87.40px;top:425.97px">-9.44</div>
<div class="n c" style="left:698.10px;width:87.17px;top:425.97px">-4.10</div>
<div class="n c" style="left:785.27px;width:87.03px;top:425.97px">-15.46</div>
<div class="nm" style="left:4px;width:130.5px;top:449.00px">家电</div>
<div class="n c" style="left:132.30px;width:87.34px;top:446.60px">0.78</div>
<div class="n c" style="left:219.64px;width:84.46px;top:446.60px">1.71</div>
<div class="n c" style="left:304.10px;width:87.17px;top:446.60px">1.85</div>
<div class="n c" style="left:391.27px;width:67.52px;top:446.60px">-0.44</div>
<div class="n c" style="left:458.79px;width:67.48px;top:446.60px">1.77</div>
<div class="n c" style="left:526.27px;width:84.43px;top:446.60px">-0.03</div>
<div class="n c" style="left:610.70px;width:87.40px;top:446.60px">-15.63</div>
<div class="n c" style="left:698.10px;width:87.17px;top:446.60px">-16.85</div>
<div class="n c" style="left:785.27px;width:87.03px;top:446.60px">-19.01</div>
<div class="nm" style="left:4px;width:130.5px;top:469.63px">农林牧渔</div>
<div class="n c" style="left:132.30px;width:87.34px;top:467.23px">0.66</div>
<div class="n c" style="left:219.64px;width:84.46px;top:467.23px">1.69</div>
<div class="n c" style="left:304.10px;width:87.17px;top:467.23px">-5.52</div>
<div class="n c" style="left:391.27px;width:67.52px;top:467.23px">-8.20</div>
<div class="n c" style="left:458.79px;width:67.48px;top:467.23px">-12.03</div>
<div class="n c" style="left:526.27px;width:84.43px;top:467.23px">-5.21</div>
<div class="n c" style="left:610.70px;width:87.40px;top:467.23px">-9.53</div>
<div class="n c" style="left:698.10px;width:87.17px;top:467.23px">-8.44</div>
<div class="n c" style="left:785.27px;width:87.03px;top:467.23px">-9.73</div>
<div class="nm" style="left:4px;width:130.5px;top:490.26px">交通运输</div>
<div class="n c" style="left:132.30px;width:87.34px;top:487.86px">0.50</div>
<div class="n c" style="left:219.64px;width:84.46px;top:487.86px">-0.05</div>
<div class="n c" style="left:304.10px;width:87.17px;top:487.86px">-2.32</div>
<div class="n c" style="left:391.27px;width:67.52px;top:487.86px">-4.75</div>
<div class="n c" style="left:458.79px;width:67.48px;top:487.86px">-1.74</div>
<div class="n c" style="left:526.27px;width:84.43px;top:487.86px">-3.41</div>
<div class="n c" style="left:610.70px;width:87.40px;top:487.86px">-10.44</div>
<div class="n c" style="left:698.10px;width:87.17px;top:487.86px">0.25</div>
<div class="n c" style="left:785.27px;width:87.03px;top:487.86px">-6.37</div>
<div class="nm" style="left:4px;width:130.5px;top:510.89px">建材</div>
<div class="n c" style="left:132.30px;width:87.34px;top:508.49px">0.43</div>
<div class="n c" style="left:219.64px;width:84.46px;top:508.49px">1.77</div>
<div class="n c" style="left:304.10px;width:87.17px;top:508.49px">2.69</div>
<div class="n c" style="left:391.27px;width:67.52px;top:508.49px">-4.53</div>
<div class="n c" style="left:458.79px;width:67.48px;top:508.49px">-4.41</div>
<div class="n c" style="left:526.27px;width:84.43px;top:508.49px">-2.21</div>
<div class="n c" style="left:610.70px;width:87.40px;top:508.49px">-14.32</div>
<div class="n c" style="left:698.10px;width:87.17px;top:508.49px">-6.16</div>
<div class="n c" style="left:785.27px;width:87.03px;top:508.49px">-16.21</div>
<div class="nm" style="left:4px;width:130.5px;top:531.52px">银行</div>
<div class="n c" style="left:132.30px;width:87.34px;top:529.12px">0.18</div>
<div class="n c" style="left:219.64px;width:84.46px;top:529.12px">-3.35</div>
<div class="n c" style="left:304.10px;width:87.17px;top:529.12px">-6.40</div>
<div class="n c" style="left:391.27px;width:67.52px;top:529.12px">-9.17</div>
<div class="n c" style="left:458.79px;width:67.48px;top:529.12px">-5.48</div>
<div class="n c" style="left:526.27px;width:84.43px;top:529.12px">-2.73</div>
<div class="n c" style="left:610.70px;width:87.40px;top:529.12px">-10.28</div>
<div class="n c" style="left:698.10px;width:87.17px;top:529.12px">-7.75</div>
<div class="n c" style="left:785.27px;width:87.03px;top:529.12px">-5.10</div>
<div class="nm" style="left:4px;width:130.5px;top:552.15px">非银行金融</div>
<div class="n c" style="left:132.30px;width:87.34px;top:549.75px">-0.15</div>
<div class="n c" style="left:219.64px;width:84.46px;top:549.75px">-1.36</div>
<div class="n c" style="left:304.10px;width:87.17px;top:549.75px">-6.74</div>
<div class="n c" style="left:391.27px;width:67.52px;top:549.75px">-10.69</div>
<div class="n c" style="left:458.79px;width:67.48px;top:549.75px">-10.92</div>
<div class="n c" style="left:526.27px;width:84.43px;top:549.75px">-8.68</div>
<div class="n c" style="left:610.70px;width:87.40px;top:549.75px">-19.52</div>
<div class="n c" style="left:698.10px;width:87.17px;top:549.75px">-18.71</div>
<div class="n c" style="left:785.27px;width:87.03px;top:549.75px">-21.38</div>
<div class="nm" style="left:4px;width:130.5px;top:572.78px">食品饮料</div>
<div class="n c" style="left:132.30px;width:87.34px;top:570.38px">-0.76</div>
<div class="n c" style="left:219.64px;width:84.46px;top:570.38px">-2.73</div>
<div class="n c" style="left:304.10px;width:87.17px;top:570.38px">-1.92</div>
<div class="n c" style="left:391.27px;width:67.52px;top:570.38px">-3.64</div>
<div class="n c" style="left:458.79px;width:67.48px;top:570.38px">0.82</div>
<div class="n c" style="left:526.27px;width:84.43px;top:570.38px">-2.44</div>
<div class="n c" style="left:610.70px;width:87.40px;top:570.38px">-12.06</div>
<div class="n c" style="left:698.10px;width:87.17px;top:570.38px">-14.26</div>
<div class="n c" style="left:785.27px;width:87.03px;top:570.38px">-19.11</div>
<div class="nm" style="left:4px;width:130.5px;top:593.41px">建筑</div>
<div class="n c" style="left:132.30px;width:87.34px;top:591.01px">-1.51</div>
<div class="n c" style="left:219.64px;width:84.46px;top:591.01px">0.49</div>
<div class="n c" style="left:304.10px;width:87.17px;top:591.01px">4.72</div>
<div class="n c" style="left:391.27px;width:67.52px;top:591.01px">-1.80</div>
<div class="n c" style="left:458.79px;width:67.48px;top:591.01px">-1.53</div>
<div class="n c" style="left:526.27px;width:84.43px;top:591.01px">-1.80</div>
<div class="n c" style="left:610.70px;width:87.40px;top:591.01px">-8.35</div>
<div class="n c" style="left:698.10px;width:87.17px;top:591.01px">-9.62</div>
<div class="n c" style="left:785.27px;width:87.03px;top:591.01px">-1.82</div>
<div class="nm" style="left:4px;width:130.5px;top:614.04px">消费者服务</div>
<div class="n c" style="left:132.30px;width:87.34px;top:611.64px">-1.76</div>
<div class="n c" style="left:219.64px;width:84.46px;top:611.64px">-4.13</div>
<div class="n c" style="left:304.10px;width:87.17px;top:611.64px">-3.95</div>
<div class="n c" style="left:391.27px;width:67.52px;top:611.64px">-7.86</div>
<div class="n c" style="left:458.79px;width:67.48px;top:611.64px">-3.94</div>
<div class="n c" style="left:526.27px;width:84.43px;top:611.64px">-8.97</div>
<div class="n c" style="left:610.70px;width:87.40px;top:611.64px">-21.24</div>
<div class="n c" style="left:698.10px;width:87.17px;top:611.64px">-18.20</div>
<div class="n c" style="left:785.27px;width:87.03px;top:611.64px">-15.43</div>
<div class="nm" style="left:4px;width:130.5px;top:634.67px">医药</div>
<div class="n c" style="left:132.30px;width:87.34px;top:632.27px">-2.48</div>
<div class="n c" style="left:219.64px;width:84.46px;top:632.27px">0.68</div>
<div class="n c" style="left:304.10px;width:87.17px;top:632.27px">-0.26</div>
<div class="n c" style="left:391.27px;width:67.52px;top:632.27px">-7.40</div>
<div class="n c" style="left:458.79px;width:67.48px;top:632.27px">-13.61</div>
<div class="n c" style="left:526.27px;width:84.43px;top:632.27px">-4.15</div>
<div class="n c" style="left:610.70px;width:87.40px;top:632.27px">-10.34</div>
<div class="n c" style="left:698.10px;width:87.17px;top:632.27px">-23.40</div>
<div class="n c" style="left:785.27px;width:87.03px;top:632.27px">-23.72</div>
<div class="a" style="left:4px;top:32px;width:871px;height:1px;background:#0e2436"></div>
<div class="a" style="left:4px;top:33px;width:871px;height:1px;background:#000"></div>
<div class="a" style="left:4px;top:34px;width:871px;height:1px;background:#000;opacity:0.4"></div>
<div class="a" style="left:134px;top:3px;width:1px;height:649.7px;background:#000"></div>
<div class="a" style="left:135px;top:3px;width:1px;height:649.7px;background:#000;opacity:0.35"></div>
<svg class="a" style="left:720px;top:584px" width="52" height="52" viewBox="0 0 52 52">
<defs>
<linearGradient id="cg" x1="0.85" y1="0.1" x2="0.15" y2="0.9"><stop offset="0" stop-color="#ea5618"/><stop offset="1" stop-color="#c9291f"/></linearGradient>
<linearGradient id="yg" x1="0.6" y1="0.1" x2="0.3" y2="1"><stop offset="0" stop-color="#ffe68c"/><stop offset="0.55" stop-color="#f8c446"/><stop offset="1" stop-color="#f0a01c"/></linearGradient>
</defs>
<circle cx="26" cy="25.5" r="22.7" fill="url(#cg)"/>
<path fill="url(#yg)" d="M13.4,42.6 C22,42.6 33.5,40 37.6,32 C39.6,27.5 40.5,22 38.8,17.8 C37.5,15 34.5,13.8 31.8,13.9 C30.5,12 28,11.3 25.5,11.5 C22,11.6 19.5,13.5 19,16.5 C15.5,17.5 13,21.5 13.2,25.5 C13.3,29.5 16,32.5 20,32.8 C23,33 25.5,32.3 28,31 C25,35.5 19,39.5 13.8,42.2 Z"/>
<path d="M22.6,24.4 C24,22 28.6,21.6 30.3,25.4 C31.6,29 29,33 24.2,36.2 C20.5,38.8 17,40.8 13.2,42.4" fill="none" stroke="#d3311f" stroke-width="2" stroke-linecap="round"/>
</svg>
<svg class="a" style="left:770px;top:584px" width="100" height="40" viewBox="0 0 100 40" fill="#a9a9a9">
<polygon points="5.1,12 9,13.5 9,27.5 5.1,28.8"/>
<rect x="9" y="13.3" width="20.9" height="1.8"/>
<polygon points="25,12 27.5,12.5 30,14.5 29.1,15 29.1,27.5 25,28.5"/>
<rect x="9" y="24.9" width="16" height="1.8"/>
<polygon points="15.2,7.1 19.3,8.5 19.3,32.5 15.2,35.5"/>
<polygon points="46.5,6.9 52.9,9.2 45.5,17.4 33.4,24.8 38.5,17.5"/>
<polygon points="50.5,13.2 53.4,11.2 64.2,18.8 61,22"/>
<rect x="44.5" y="18.8" width="15" height="2"/>
<rect x="37.2" y="24.4" width="24.3" height="1.8"/>
<rect x="47.3" y="19" width="4.6" height="16"/>
<polygon points="38.3,27 42,26.2 45.5,32.6 42.2,33.6"/>
<polygon points="57.6,27.4 61.5,28.6 56.3,34 53.3,33"/>
<rect x="35.2" y="34.2" width="28.3" height="1.9"/>
<polygon points="70.3,7.4 74.4,8.6 74.4,33.5 70.3,34.7"/>
<polygon points="74.4,8.3 92,8.3 95.5,9.6 94.4,10.1 74.4,10.1"/>
<polygon points="89.4,7.6 92.6,7.2 95.5,9.6 94,10.6 94,32.5 92.2,34.4 84.2,32.3 89.4,31.5"/>
<g stroke="#a9a9a9" stroke-width="3.2">
<line x1="78.5" y1="12.8" x2="83" y2="25.1"/><line x1="81.2" y1="14.2" x2="75.7" y2="29.7"/>
<line x1="86.2" y1="12.8" x2="89.4" y2="24.2"/><line x1="88" y1="15.1" x2="83" y2="26.5"/>
</g>
</svg>
<div class="a" style="left:775px;top:622.5px;font-size:10.4px;line-height:12px;color:#a8a8a8;white-space:nowrap">CNGOLD.COM.CN</div>
<div class="a" style="left:726px;top:634px;font-size:13px;line-height:15px;color:#b0b0b0;letter-spacing:7.7px;white-space:nowrap;opacity:0.85">中文财经专媒体</div>
</body></html>
